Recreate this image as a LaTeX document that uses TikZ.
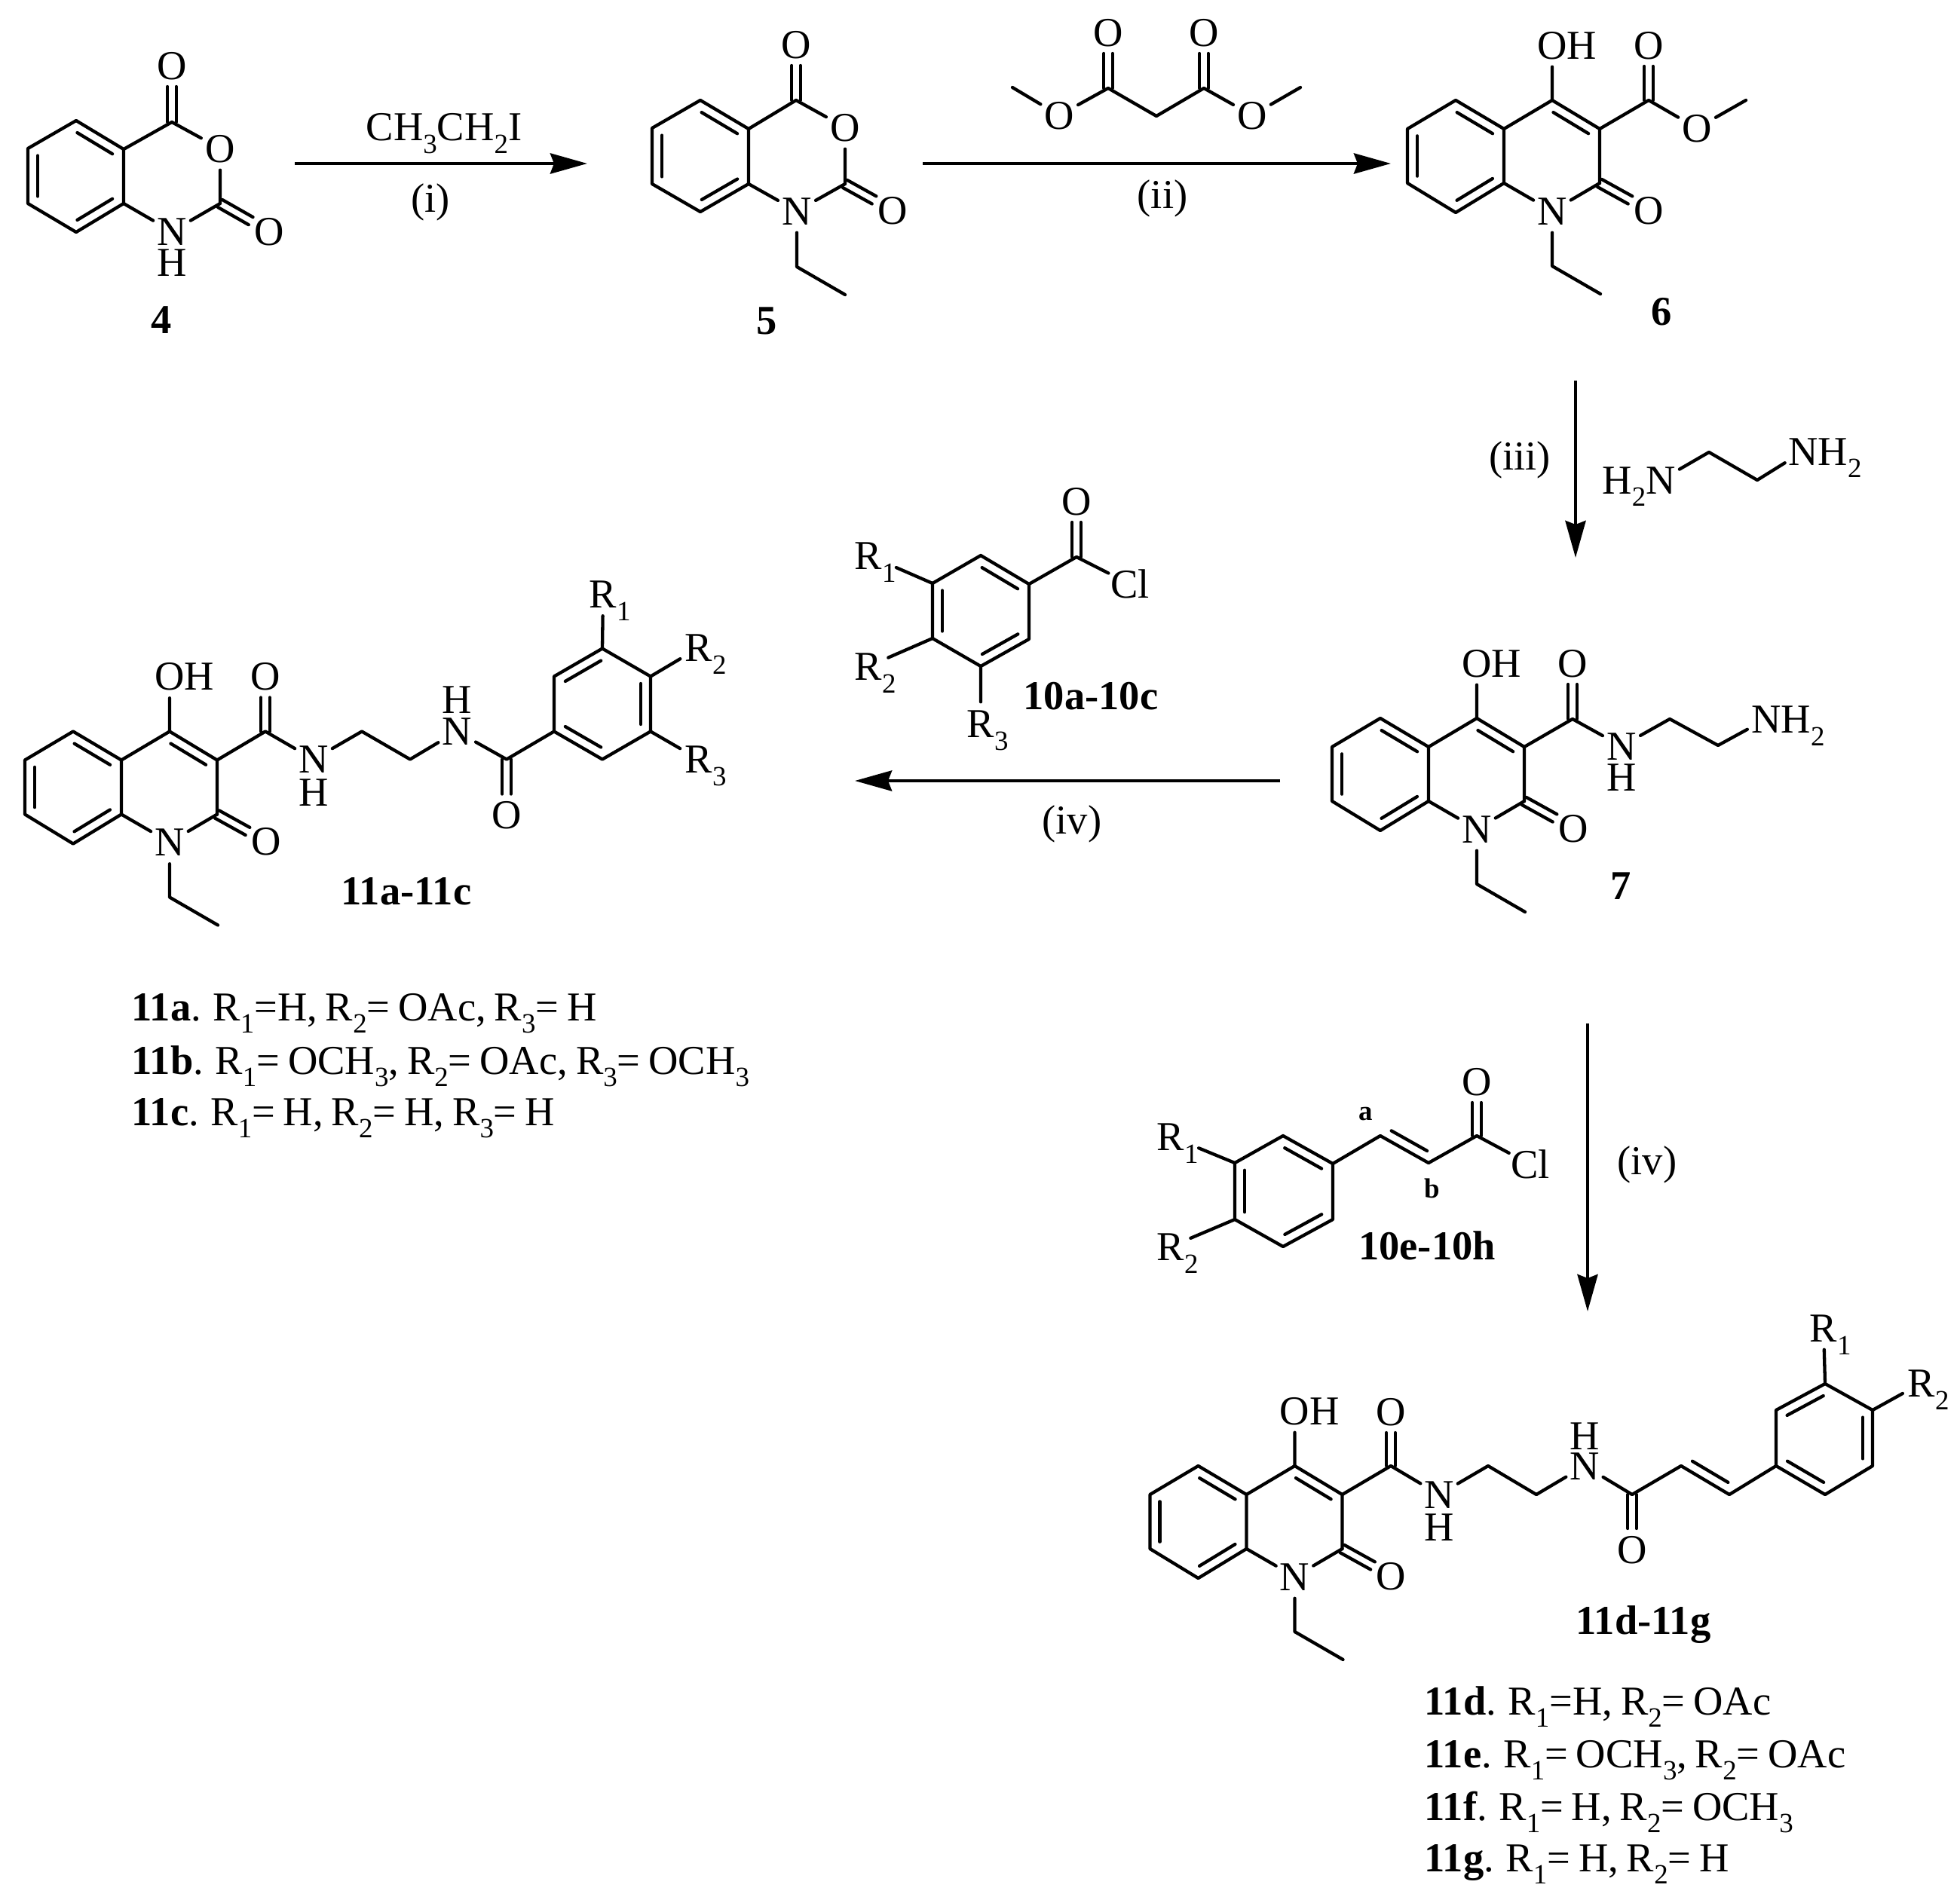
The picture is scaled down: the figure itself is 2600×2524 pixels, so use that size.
\documentclass[tikz,border=0pt]{standalone}
\usepackage{fontspec}
\setmainfont{Liberation Serif}[WordSpace=0.8]
\usetikzlibrary{calc,arrows.meta}
\tikzset{
  bond/.style={line width=0.043cm,line cap=round,line join=round},
  rxn/.style={line width=0.045cm,-{Stealth[length=0.49cm,width=0.27cm,inset=0.05cm]}},
  atom/.style={circle,inner sep=0pt,minimum size=0.56cm,text height=10.3pt,text depth=0pt,font=\fontsize{15.5}{18}\selectfont},
  txt/.style={inner sep=0pt,font=\fontsize{15.5}{18}\selectfont},
  cpd/.style={inner sep=0pt,font=\fontsize{15.5}{18}\selectfont\bfseries},
  small/.style={inner sep=0pt,font=\fontsize{10.5}{12}\selectfont\bfseries},
  line/.style={inner sep=0pt,anchor=base west,font=\fontsize{15.5}{18}\selectfont},
  rgap/.style={shorten >=0.115cm},
}
\newcommand{\sbs}[1]{\raisebox{-4.8pt}{\fontsize{10.5}{12}\selectfont #1}}
\newcommand{\rsb}[1]{\rlap{\smash{\sbs{#1}}}}
% inner line of a ring or alkene double bond: on the left of a->b as seen
\newcommand{\ib}[2]{\draw[bond] ($(#1)!.13!(#2)!.13cm!90:(#2)$) -- ($(#2)!.13!(#1)!.13cm!-90:(#1)$);}
% C=O type double bond from an atom to a labelled node
\newcommand{\cb}[2]{%
  \draw[bond] ($(#1)!.058cm!90:(#2)$) -- ($(#2)!.28cm!(#1)!.058cm!-90:(#1)$);
  \draw[bond] ($(#1)!.058cm!-90:(#2)$) -- ($(#2)!.28cm!(#1)!.058cm!90:(#1)$);}
% the 1-ethyl-4-hydroxy-2-quinolone skeleton, origin at C4
\newcommand{\quinolone}[1]{%
  \coordinate (#1a) at (-128,0);
  \coordinate (#1b) at (-192,38);
  \coordinate (#1c) at (-192,110);
  \coordinate (#1d) at (-128,149);
  \coordinate (#1e) at (-64,110);
  \coordinate (#1f) at (-64,38);
  \coordinate (#1g) at (0,0);
  \coordinate (#1h) at (63,38);
  \coordinate (#1i) at (63,110);
  \coordinate (#1j) at (0,220);
  \coordinate (#1k) at (64,257);
  \node[atom] (#1n) at (0,147) {N};
  \node[atom] (#1o) at (128,146) {O};
  \node[atom] (#1oh) at (0,-73) {O\rlap{H}};
  \draw[bond] (#1f)--(#1a)--(#1b)--(#1c)--(#1d)--(#1e)--(#1f)--(#1g)--(#1h)--(#1i);
  \draw[bond] (#1e)--(#1n) (#1i)--(#1n) (#1n)--(#1j)--(#1k) (#1g)--(#1oh);
  \cb{#1i}{#1o}
  \ib{#1f}{#1a}\ib{#1b}{#1c}\ib{#1d}{#1e}\ib{#1h}{#1g}
}
\begin{document}
\begin{tikzpicture}[x=0.01cm,y=-0.01cm]
\useasboundingbox (0,0) rectangle (2600,2524);
% ---------- 4
\coordinate (fa) at (101,160); \coordinate (fb) at (37,197); \coordinate (fc) at (37,270);
\coordinate (fd) at (101,308); \coordinate (fe) at (164,270); \coordinate (ff) at (164,198);
\coordinate (fg) at (228,162); \coordinate (fh) at (292,270);
\node[atom] (fo1) at (228,87) {O};
\node[atom] (fo2) at (292,197) {O};
\node[atom] (fo3) at (357,307) {O};
\node[atom] (fn) at (228,307) {N};
\node[atom] (fhh) at (228,348) {H};
\node[cpd] (l4) at (214,425) {4};
\draw[bond] (ff)--(fa)--(fb)--(fc)--(fd)--(fe)--(ff)--(fg) (fg)--(fo2) (fo2)--(fh) (fh)--(fn) (fe)--(fn);
\cb{fg}{fo1}\cb{fh}{fo3}
\ib{ff}{fa}\ib{fb}{fc}\ib{fd}{fe}
% ---------- 5
\coordinate (va) at (929,133); \coordinate (vb) at (865,170); \coordinate (vc) at (865,244);
\coordinate (vd) at (929,281); \coordinate (ve) at (993,244); \coordinate (vf) at (993,171);
\coordinate (vg) at (1056,133); \coordinate (vh) at (1121,244);
\coordinate (vi) at (1057,354); \coordinate (vj) at (1121,391);
\node[atom] (vo1) at (1056,59) {O};
\node[atom] (vo2) at (1121,169) {O};
\node[atom] (vo3) at (1184,279) {O};
\node[atom] (vn) at (1057,280) {N};
\node[cpd] (l5) at (1017,426) {5};
\draw[bond] (vf)--(va)--(vb)--(vc)--(vd)--(ve)--(vf)--(vg) (vg)--(vo2) (vo2)--(vh) (vh)--(vn) (ve)--(vn) (vn)--(vi)--(vj);
\cb{vg}{vo1}\cb{vh}{vo3}
\ib{vf}{va}\ib{vb}{vc}\ib{vd}{ve}
% ---------- arrow i
\coordinate (a1s) at (391,217); \coordinate (a1e) at (779,217);
\draw[rxn] (a1s)--(a1e);
\node[txt] (t1) at (589,177) {CH\sbs{3}CH\sbs{2}I};
\node[txt] (t1b) at (571,268) {(i)};
% ---------- malonate
\coordinate (mc1) at (1470,117); \coordinate (mch) at (1534,154); \coordinate (mc2) at (1597,117);
\coordinate (mm1) at (1343,116); \coordinate (mm2) at (1725,116);
\node[atom] (mo1) at (1470,43) {O};
\node[atom] (mo2) at (1597,43) {O};
\node[atom] (mo3) at (1405,153) {O};
\node[atom] (mo4) at (1661,153) {O};
\draw[bond] (mm1)--(mo3) (mo3)--(mc1)--(mch)--(mc2)--(mo4) (mo4)--(mm2);
\cb{mc1}{mo1}\cb{mc2}{mo2}
% ---------- arrow ii
\coordinate (a2s) at (1224,217); \coordinate (a2e) at (1845,217);
\draw[rxn] (a2s)--(a2e);
\node[txt] (t2) at (1542,263) {(ii)};
% ---------- 6
\begin{scope}[shift={(2059,133)}]
\quinolone{s}
\coordinate (sc) at (128,0); \coordinate (sm) at (257,0);
\node[atom] (so1) at (128,-73) {O};
\node[atom] (so2) at (192,37) {O};
\draw[bond] (sh)--(sc)--(so2) (so2)--(sm);
\cb{sc}{so1}
\end{scope}
\node[cpd] (l6) at (2204,414) {6};
% ---------- arrow iii, ethylenediamine
\coordinate (a3s) at (2090,505); \coordinate (a3e) at (2090,740);
\draw[rxn] (a3s)--(a3e);
\node[txt] (t3) at (2016,610) {(iii)};
\node[atom] (en1) at (2203,637) {\llap{H\sbs{2}}N};
\node[atom] (en2) at (2392,599) {N\rlap{H\sbs{2}}};
\coordinate (e1) at (2267,600); \coordinate (e2) at (2331,637);
\draw[bond] (en1)--(e1)--(e2)--(en2);
% ---------- 7
\begin{scope}[shift={(1959,953)}]
\quinolone{q}
\coordinate (qc) at (127,1); \coordinate (qp) at (256,1); \coordinate (qr) at (320,36);
\node[atom] (qo1) at (127,-73) {O};
\node[atom] (qn1) at (192,37) {N};
\node[atom] (qh1) at (192,78) {H};
\node[atom] (qn2) at (384,1) {N\rlap{H\sbs{2}}};
\draw[bond] (qh)--(qc)--(qn1) (qn1)--(qp)--(qr)--(qn2);
\cb{qc}{qo1}
\end{scope}
\node[cpd] (l7) at (2150,1176) {7};
% ---------- arrow iv left
\coordinate (a4s) at (1698,1036); \coordinate (a4e) at (1134,1036);
\draw[rxn] (a4s)--(a4e);
\node[txt] (t4) at (1422,1093) {(iv)};
% ---------- 10a-10c
\coordinate (ba) at (1301,737); \coordinate (bb) at (1237,774); \coordinate (bc) at (1237,847);
\coordinate (bd) at (1301,884); \coordinate (be) at (1365,848); \coordinate (bf) at (1365,775);
\coordinate (bg) at (1428,739);
\node[atom] (bo) at (1428,665) {O};
\node[atom] (bcl) at (1499,775) {Cl};
\node[atom] (br1) at (1152,737) {R\rsb{1}};
\node[atom] (br2) at (1152,884) {R\rsb{2}};
\node[atom] (br3) at (1301,960) {R\rsb{3}};
\node[cpd] (l10a) at (1447,924) {10a-10c};
\draw[bond] (ba)--(bb)--(bc)--(bd)--(be)--(bf)--(ba) (bf)--(bg)--(bcl) (bc)--(br2) (bd)--(br3);
\draw[bond,rgap] (bb)--(br1);
\cb{bg}{bo}
\ib{bf}{ba}\ib{bb}{bc}\ib{bd}{be}
% ---------- 11a-11c
\begin{scope}[shift={(225,970.5)}]
\quinolone{p}
\coordinate (pc) at (127,0); \coordinate (pp) at (255,0); \coordinate (pq) at (319,37);
\coordinate (pco) at (447,37); \coordinate (pr1) at (510,0); \coordinate (pr2) at (574,37);
\coordinate (pr3) at (638,0); \coordinate (pr4) at (638,-73); \coordinate (pr5) at (574,-110); \coordinate (pr6) at (510,-73);
\node[atom] (po1) at (127,-73) {O};
\node[atom] (pn1) at (191,37) {N};
\node[atom] (ph1) at (191,81) {H};
\node[atom] (pn2) at (381,0) {N};
\node[atom] (ph2) at (381,-42) {H};
\node[atom] (po2) at (447,111) {O};
\node[atom] (pR1) at (575,-182) {R\rsb{1}};
\node[atom] (pR2) at (702,-111) {R\rsb{2}};
\node[atom] (pR3) at (702,37) {R\rsb{3}};
\draw[bond] (ph)--(pc)--(pn1) (pn1)--(pp)--(pq)--(pn2) (pn2)--(pco)--(pr1)--(pr2)--(pr3)--(pr4)--(pr5)--(pr6)--(pr1);
\draw[bond] (pr5)--(pR1) (pr4)--(pR2) (pr3)--(pR3);
\cb{pc}{po1}\cb{pco}{po2}
\ib{pr1}{pr2}\ib{pr3}{pr4}\ib{pr5}{pr6}
\end{scope}
\node[cpd] (l11a) at (539,1183) {11a-11c};
\node[line] (n11a) at (174,1354) {\textbf{11a}. R\sbs{1}=H, R\sbs{2}= OAc, R\sbs{3}= H};
\node[line] (n11b) at (174,1425) {\textbf{11b}. R\sbs{1}= OCH\sbs{3}, R\sbs{2}= OAc, R\sbs{3}= OCH\sbs{3}};
\node[line] (n11c) at (174,1493) {\textbf{11c}. R\sbs{1}= H, R\sbs{2}= H, R\sbs{3}= H};
% ---------- arrow iv down
\coordinate (a5s) at (2106,1358); \coordinate (a5e) at (2106,1740);
\draw[rxn] (a5s)--(a5e);
\node[txt] (t5) at (2185,1545) {(iv)};
% ---------- 10e-10h
\coordinate (ca) at (1702,1507); \coordinate (cb) at (1638,1543); \coordinate (cc) at (1638,1618);
\coordinate (cd) at (1702,1654); \coordinate (ce) at (1768,1618); \coordinate (cf) at (1768,1544);
\coordinate (cg) at (1831,1507); \coordinate (ch) at (1895,1543); \coordinate (ci) at (1959,1507);
\node[atom] (co) at (1959,1435) {O};
\node[atom] (ccl) at (2030,1545) {Cl};
\node[atom] (cr1) at (1553,1508) {R\rsb{1}};
\node[atom] (cr2) at (1553,1654) {R\rsb{2}};
\node[small] (la) at (1812,1478) {a};
\node[small] (lb) at (1900,1577) {b};
\node[cpd] (l10e) at (1893,1653) {10e-10h};
\draw[bond] (ca)--(cb)--(cc)--(cd)--(ce)--(cf)--(ca) (cf)--(cg)--(ch)--(ci)--(ccl) (cc)--(cr2);
\draw[bond,rgap] (cb)--(cr1);
\cb{ci}{co}
\ib{cf}{ca}\ib{cb}{cc}\ib{cd}{ce}\ib{cg}{ch}
% ---------- 11d-11g
\begin{scope}[shift={(1717.5,1945)}]
\quinolone{r}
\coordinate (rc) at (127.5,0); \coordinate (rp) at (256.5,0); \coordinate (rq) at (320.5,38);
\coordinate (rco) at (447.5,38); \coordinate (rv1) at (512.5,0); \coordinate (rv2) at (576.5,38);
\coordinate (ra1) at (638.5,0); \coordinate (ra2) at (703.5,38); \coordinate (ra3) at (766.5,0);
\coordinate (ra4) at (766.5,-74); \coordinate (ra5) at (703.5,-109); \coordinate (ra6) at (638.5,-74);
\node[atom] (ro1) at (127.5,-72) {O};
\node[atom] (rn1) at (191.5,38) {N};
\node[atom] (rh1) at (191.5,81) {H};
\node[atom] (rn2) at (384.5,0) {N};
\node[atom] (rh2) at (384.5,-40) {H};
\node[atom] (ro2) at (447.5,111) {O};
\node[atom] (rR1) at (701.5,-183) {R\rsb{1}};
\node[atom] (rR2) at (831.5,-110) {R\rsb{2}};
\draw[bond] (rh)--(rc)--(rn1) (rn1)--(rp)--(rq)--(rn2) (rn2)--(rco)--(rv1)--(rv2)--(ra1)--(ra2)--(ra3)--(ra4)--(ra5)--(ra6)--(ra1);
\draw[bond] (ra5)--(rR1) (ra4)--(rR2);
\cb{rc}{ro1}\cb{rco}{ro2}
\ib{rv1}{rv2}\ib{ra1}{ra2}\ib{ra3}{ra4}\ib{ra5}{ra6}
\end{scope}
\node[cpd] (l11d) at (2180,2156) {11d-11g};
\node[line] (n11d) at (1889,2275) {\textbf{11d}. R\sbs{1}=H, R\sbs{2}= OAc};
\node[line] (n11e) at (1889,2345) {\textbf{11e}. R\sbs{1}= OCH\sbs{3}, R\sbs{2}= OAc};
\node[line] (n11f) at (1889,2415) {\textbf{11f}. R\sbs{1}= H, R\sbs{2}= OCH\sbs{3}};
\node[line] (n11g) at (1889,2483) {\textbf{11g}. R\sbs{1}= H, R\sbs{2}= H};
\end{tikzpicture}
\end{document}
